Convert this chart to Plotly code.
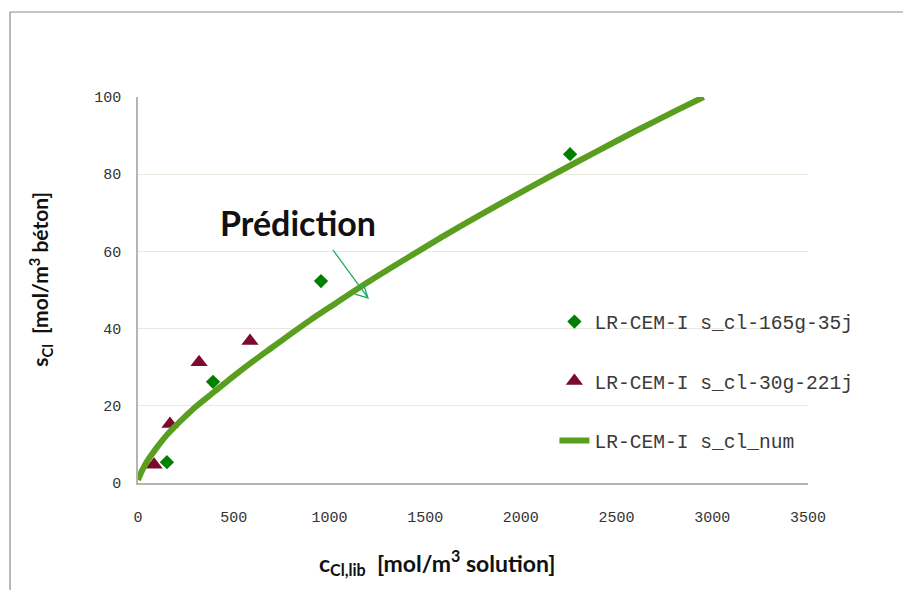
import plotly.graph_objects as go

# Measured data: LR-CEM-I s_cl-165g-35j (green diamonds)
x_165 = [151, 392, 956, 2257]
y_165 = [5.4, 26.2, 52.3, 85.2]

# Measured data: LR-CEM-I s_cl-30g-221j (maroon triangles)
x_30 = [84, 167, 319, 585]
y_30 = [4.7, 15.3, 31.3, 36.8]

# Numerical prediction: LR-CEM-I s_cl_num (curve)
x_num = [0, 10, 25, 50, 75, 100, 150, 200, 250, 300, 400, 500, 600, 700, 800, 900,
         1000, 1200, 1400, 1600, 1800, 2000, 2200, 2400, 2600, 2800, 2955]
y_num = [0.8, 2.0, 3.6, 5.8, 7.6, 9.3, 12.4, 15.0, 17.4, 19.7, 23.7, 27.7, 31.5, 35.1, 38.7, 42.2,
         45.5, 52.0, 58.1, 64.1, 69.8, 75.3, 80.7, 86.0, 91.2, 96.2, 100.0]

x_ticks = [0, 500, 1000, 1500, 2000, 2500, 3000, 3500]
y_ticks = [0, 20, 40, 60, 80, 100]

label_font = "Lato, 'Open Sans', sans-serif"
mono_font = "'Liberation Mono', 'DejaVu Sans Mono', monospace"

fig = go.Figure()

fig.add_trace(go.Scatter(
    x=x_165, y=y_165, mode="markers", name="LR-CEM-I s_cl-165g-35j",
    marker=dict(symbol="diamond", size=11, color="#008000"),
    legendgroup="a",
))
fig.add_trace(go.Scatter(
    x=x_30, y=y_30, mode="markers", name="LR-CEM-I s_cl-30g-221j",
    marker=dict(symbol="triangle-up", size=15, color="#7b0a2e"),
    legendgroup="b",
))
fig.add_trace(go.Scatter(
    x=x_num, y=y_num, mode="lines", name="LR-CEM-I s_cl_num",
    line=dict(color="#5a9e1f", width=6, shape="spline", smoothing=0.8),
    legendgroup="c",
))

# "Prédiction" arrow with open head (drawn as a path in data coordinates)
fig.add_shape(
    type="path", xref="x", yref="y",
    path="M 1018.7 60.36 L 1201.5 47.93 M 1175.4 51.81 L 1201.5 47.93 L 1133.6 48.96",
    line=dict(color="#22aa60", width=1.3),
)
fig.add_annotation(
    x=836, y=67.6, xref="x", yref="y", text="<b>Prédiction</b>", showarrow=False,
    font=dict(family=label_font, size=34, color="#111111"),
)

# axis titles placed as in the reference
fig.add_annotation(
    x=0.447, y=-0.207, xref="paper", yref="paper", xanchor="center", yanchor="middle",
    text="<b>c<sub>Cl,lib</sub>  [mol/m<sup>3</sup> solution]</b>", showarrow=False,
    font=dict(family=label_font, size=23, color="#111111"),
)
fig.add_annotation(
    x=-0.146, y=0.527, xref="paper", yref="paper", xanchor="center", yanchor="middle",
    text="<b>s<sub>Cl</sub>  [mol/m<sup>3</sup> béton]</b>", showarrow=False, textangle=-90,
    font=dict(family=label_font, size=21, color="#111111"),
)

# outer frame (left and top edges visible)
fig.add_shape(type="line", xref="paper", yref="paper",
              x0=-0.191, x1=-0.191, y0=-0.5, y1=1.2202,
              line=dict(color="#8a8a8a", width=1.2), layer="below")
fig.add_shape(type="line", xref="paper", yref="paper",
              x0=-0.191, x1=1.5, y0=1.2202, y1=1.2202,
              line=dict(color="#8a8a8a", width=1.2), layer="below")

fig.update_layout(
    width=903, height=590,
    margin=dict(l=138, r=95, t=97, b=107),
    paper_bgcolor="white", plot_bgcolor="white",
    showlegend=True,
    legend=dict(
        x=0.6215, y=0.468, xanchor="left", yanchor="top",
        font=dict(family=mono_font, size=19.6, color="#3a3a3a"),
        bgcolor="rgba(0,0,0,0)", tracegroupgap=31, traceorder="grouped",
    ),
    xaxis=dict(
        range=[0, 3500], tickvals=x_ticks, ticktext=[str(v) for v in x_ticks],
        showgrid=False, zeroline=False, showline=True, linecolor="#b5b5b5", linewidth=1.5,
        ticks="", ticklabelstandoff=19,
        tickfont=dict(family=mono_font, size=15, color="#333333"),
        fixedrange=True,
    ),
    yaxis=dict(
        range=[0, 100], tickvals=y_ticks, ticktext=[str(v) for v in y_ticks],
        showgrid=True, gridcolor="#ebe8dd", gridwidth=1, zeroline=False,
        showline=True, linecolor="#b5b5b5", linewidth=1.5,
        ticks="", ticklabelstandoff=12,
        tickfont=dict(family=mono_font, size=15, color="#333333"),
        fixedrange=True,
    ),
)

fig.write_html(
    "out.html",
    config={"displayModeBar": False},
    post_script="document.body.style.margin='0';document.body.style.overflow='hidden';",
)
